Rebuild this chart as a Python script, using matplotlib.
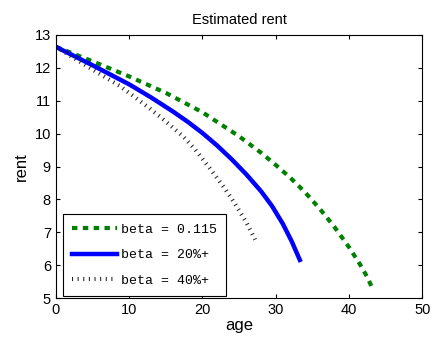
import matplotlib
matplotlib.use("Agg")
import matplotlib.pyplot as plt

age_g = [0, 5, 10, 15, 20, 25, 28, 30, 32, 34, 36, 38, 40, 41.5, 42.5, 43.3]
rent_g = [12.64, 12.2, 11.74, 11.24, 10.65, 9.92, 9.42, 9.05, 8.66, 8.22, 7.72, 7.17, 6.55, 6.03, 5.64, 5.25]

age_b = [0, 5, 10, 13, 16, 18, 20, 22, 24, 26, 28, 29.5, 31, 32.2, 33.3]
rent_b = [12.64, 12.08, 11.5, 11.1, 10.67, 10.36, 10.02, 9.64, 9.22, 8.76, 8.25, 7.8, 7.25, 6.72, 6.16]

age_k = [0, 5, 8.8, 12.8, 15, 17.4, 19, 21, 23, 24.5, 26, 27.2]
rent_k = [12.64, 11.95, 11.44, 10.77, 10.37, 9.91, 9.52, 8.95, 8.35, 7.85, 7.3, 6.78]

labels = ["beta = 0.115", "beta = 20%+", "beta = 40%+"]
xticks = [0, 10, 20, 30, 40, 50]
yticks = [5, 6, 7, 8, 9, 10, 11, 12, 13]

plt.rcParams['font.family'] = ['Liberation Sans', 'DejaVu Sans']

fig = plt.figure(figsize=(4.33, 3.43), dpi=100)
ax = fig.add_axes([0.129, 0.131, 0.846, 0.767])

ax.plot(age_g, rent_g, color='#008000', lw=3, linestyle=(0, (1.3, 1.3)), label=labels[0])
ax.plot(age_b, rent_b, color='#0000ff', lw=3.2, label=labels[1])
ax.plot(age_k, rent_k, color='#222222', lw=3, linestyle=(0, (0.25, 1.1)),
        dash_capstyle='butt', label=labels[2])

ax.set_xlim(0, 50)
ax.set_ylim(5, 13)
ax.set_xticks(xticks)
ax.set_yticks(yticks)
ax.tick_params(direction='in', top=True, right=True, labelsize=10.5, length=3)
ax.set_xlabel('age', fontsize=12, labelpad=1)
ax.set_ylabel('rent', fontsize=12)
ax.set_title('Estimated rent', fontsize=10.5, pad=8)

leg = ax.legend(loc='lower left', bbox_to_anchor=(0.019, 0.008), borderaxespad=0,
                fancybox=False, edgecolor='black', framealpha=1,
                prop={'family': 'Liberation Mono', 'size': 9.5}, handlelength=3.4,
                borderpad=0.7, handletextpad=0.3, labelspacing=1.0)
leg.get_frame().set_linewidth(0.8)

fig.savefig('out.png', dpi=100)
